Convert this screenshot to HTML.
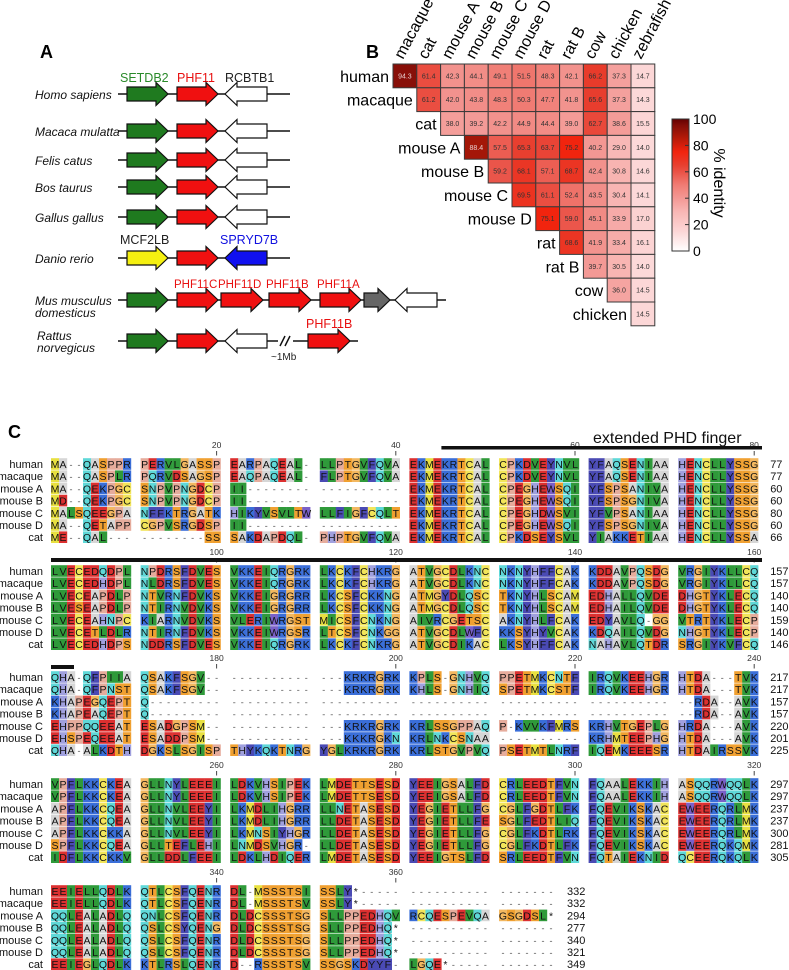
<!DOCTYPE html>
<html><head><meta charset="utf-8"><style>
html,body{margin:0;padding:0;background:#fff;}
svg{display:block;font-family:"Liberation Sans",Arial,sans-serif;}
</style></head><body>
<svg id="fig" width="789" height="970" viewBox="0 0 789 970" xmlns="http://www.w3.org/2000/svg">
<text x="40" y="58" font-size="18" font-weight="bold">A</text>
<text x="366" y="58" font-size="18" font-weight="bold">B</text>
<text x="8" y="438" font-size="18" font-weight="bold">C</text>
<g id="panelA"></g>
<g id="panelB"></g>
<g id="panelC"></g>
</svg>
<script>
// ---------- Heatmap data ----------
const rowLabels = ["human","macaque","cat","mouse A","mouse B","mouse C","mouse D","rat","rat B","cow","chicken"];
const colLabels = ["macaque","cat","mouse A","mouse B","mouse C","mouse D","rat","rat B","cow","chicken","zebrafish"];
const rowHuman   = [94.3,61.4,42.3,44.1,49.1,51.5,48.3,42.1,66.2,37.3,14.7];
const rowMacaque = [61.2,42.0,43.8,48.3,50.3,47.7,41.8,65.6,37.3,14.3];
const rowCat     = [38.0,39.2,42.2,44.9,44.4,39.0,62.7,38.6,15.5];
const rowMouseA  = [88.4,57.5,65.3,63.7,75.2,40.2,29.0,14.0];
const rowMouseB  = [59.2,68.1,57.1,68.7,42.4,30.8,14.6];
const rowMouseC  = [69.5,61.1,52.4,43.5,30.4,14.1];
const rowMouseD  = [75.1,59.0,45.1,33.9,17.0];
const rowRat     = [68.6,41.9,33.4,16.1];
const rowRatB    = [39.7,30.5,14.0];
const rowCow     = [36.0,14.5];
const rowChicken = [14.5];
const identityRows = [rowHuman,rowMacaque,rowCat,rowMouseA,rowMouseB,rowMouseC,rowMouseD,rowRat,rowRatB,rowCow,rowChicken];
const colorbarTicks = [0,20,40,60,80,100];

const NS="http://www.w3.org/2000/svg";
function mk(tag,attrs,parent){const e=document.createElementNS(NS,tag);for(const k in attrs)e.setAttribute(k,attrs[k]);if(parent)parent.appendChild(e);return e;}

const stops=[[0,[255,255,255]],[15,[252,214,214]],[30,[248,182,180]],[40,[243,152,148]],[50,[240,124,116]],[60,[234,82,70]],[66,[232,60,44]],[75,[242,36,14]],[88,[166,24,8]],[94,[138,16,8]],[100,[100,0,0]]];
function heatColor(v){
  for(let i=1;i<stops.length;i++){if(v<=stops[i][0]){const a=stops[i-1],b=stops[i];const t=(v-a[0])/(b[0]-a[0]);
    const c=a[1].map((x,j)=>Math.round(x+(b[1][j]-x)*t));return `rgb(${c[0]},${c[1]},${c[2]})`;}}
  return "rgb(100,0,0)";
}
const hx0=393, hy0=64, cs=23.8;
function xCol(j){return hx0+j*cs;}
function yRow(i){return hy0+i*cs;}
const gB=document.getElementById('panelB');
colLabels.forEach((lab,j)=>{
  const t=mk('text',{x:0,y:0,'font-size':16,transform:`translate(${xCol(j)+10},${hy0-4}) rotate(-62)`},gB);
  t.textContent=lab;
  
  
});
identityRows.forEach((row,i)=>{
  const lab=mk('text',{x:xCol(i)-4,y:yRow(i)+cs/2+6,'font-size':16,'text-anchor':'end'},gB);
  lab.textContent=rowLabels[i];
  
  
  row.forEach((v,k)=>{
    const j=i+k;
    const r=mk('rect',{x:xCol(j),y:yRow(i),width:cs,height:cs,fill:heatColor(v),stroke:'#3a3a3a','stroke-width':1},gB);
    
    
    const t=mk('text',{x:xCol(j)+cs/2,y:yRow(i)+cs/2+2.5,'font-size':7,'text-anchor':'middle',fill:v>85?'#e8d0d0':'#333'},gB);
    t.textContent=v.toFixed(1);
    
    
  });
});
// colorbar
const defs=mk('defs',{},gB);
const lg=mk('linearGradient',{id:'cbg',x1:0,y1:1,x2:0,y2:0},defs);
for(let v=0;v<=100;v+=5){mk('stop',{offset:(v/100),'stop-color':heatColor(v)},lg);}
const cbX=672,cbY=119,cbW=17,cbH=132;
const cb=mk('rect',{x:cbX,y:cbY,width:cbW,height:cbH,fill:'url(#cbg)',stroke:'#333','stroke-width':1},gB);


colorbarTicks.forEach(v=>{
  const y=cbY+cbH-(v/100)*cbH;
  mk('line',{x1:cbX+cbW-4,x2:cbX+cbW,y1:y,y2:y,stroke:'#333'},gB);
  const t=mk('text',{x:cbX+cbW+4,y:y+5,'font-size':14},gB);
  t.textContent=v;
  
  
});
const cbt=mk('text',{x:0,y:0,'font-size':16,'text-anchor':'middle',transform:'translate(714,183) rotate(90)'},gB);
cbt.textContent='% identity';



// ---------- Panel A ----------
const gA=document.getElementById('panelA');
function line(x1,x2,y){mk('line',{x1,x2,y1:y,y2:y,stroke:'#111','stroke-width':1.5},gA);}
function arrow(x1,x2,y,dir,fill,name){
  const bh=7,hh=11.5,hl=12;let pts;
  if(dir>0){const hs=x2-hl;pts=[[x1,y-bh],[hs,y-bh],[hs,y-hh],[x2,y],[hs,y+hh],[hs,y+bh],[x1,y+bh]];}
  else{const hs=x1+hl;pts=[[x2,y-bh],[hs,y-bh],[hs,y-hh],[x1,y],[hs,y+hh],[hs,y+bh],[x2,y+bh]];}
  const p=mk('polygon',{points:pts.map(p=>p.join(',')).join(' '),fill,stroke:'#111','stroke-width':1.2},gA);
  
  
}
function label(x,y,txt,color,italic,name,size){
  const t=mk('text',{x,y,'font-size':size||12,fill:color||'#111','font-style':italic?'italic':'normal'},gA);
  t.textContent=txt;
  
  
}
label(120,82,'SETDB2','#2a8a2a',false,'gene-label-setdb2',12.5);
label(177,82,'PHF11','#e81010',false,'gene-label-phf11',12.5);
label(225,82,'RCBTB1','#222',false,'gene-label-rcbtb1',12.5);
const std=[["Homo sapiens",94],["Macaca mulatta",131],["Felis catus",160],["Bos taurus",187],["Gallus gallus",217]];
std.forEach(([n,y])=>{
  label(35,y+5,n,'#111',true,'species-label',12);
  line(118,290,y);
  arrow(127,168,y,1,'#1f7a1f','setdb2-arrow');
  arrow(177,218,y,1,'#f01010','phf11-arrow');
  arrow(225,267,y,-1,'#fff','rcbtb1-arrow');
});
// Danio
label(120,244,'MCF2LB','#222',false,'gene-label-mcf2lb',12.5);
label(220,244,'SPRYD7B','#1010e0',false,'gene-label-spryd7b',12.5);
label(35,263,'Danio rerio','#111',true,'species-label',12);
line(118,290,258);
arrow(127,168,258,1,'#f5f010','mcf2lb-arrow');
arrow(177,218,258,1,'#f01010','phf11-arrow');
arrow(225,267,258,-1,'#1010f0','spryd7b-arrow');
// Mus
label(35,305,'Mus musculus','#111',true,'species-label',12);
label(35,317,'domesticus','#111',true,'species-label',12);
line(118,446,300);
arrow(127,168,300,1,'#1f7a1f','setdb2-arrow');
[[177,218,'PHF11C'],[221,263,'PHF11D'],[269,311,'PHF11B'],[320,361,'PHF11A']].forEach(([a,b,n])=>{
  arrow(a,b,300,1,'#f01010','phf11-paralog-arrow');
  label(a-3,288,n,'#e81010',false,'gene-label-'+n.toLowerCase(),11.5);
});
arrow(364,390,300,1,'#666','grey-gene-arrow');
arrow(395,437,300,-1,'#fff','white-gene-arrow');
// Rat
label(37,340,'Rattus','#111',true,'species-label',12);
label(37,352,'norvegicus','#111',true,'species-label',12);
line(118,278,341); line(293,358,341);
arrow(127,168,341,1,'#1f7a1f','setdb2-arrow');
arrow(177,218,341,1,'#f01010','phf11-arrow');
arrow(225,267,341,-1,'#fff','rcbtb1-arrow');
mk('line',{x1:280,y1:346,x2:285,y2:336,stroke:'#111','stroke-width':1.5},gA);
mk('line',{x1:285,y1:346,x2:290,y2:336,stroke:'#111','stroke-width':1.5},gA);
label(271,360,'~1Mb','#222',false,'distance-label',10);
arrow(308,350,341,1,'#f01010','phf11b-arrow');
label(306,328,'PHF11B','#e81010',false,'gene-label-phf11b',12.5);

// ---------- Panel C alignment ----------
const seqNames=["human","macaque","mouse A","mouse B","mouse C","mouse D","cat"];
const blocks=[
 {y:464,start:0,len:80,ends:[77,77,60,60,80,60,66],rows:[
  "MA--QASPPR PERVLGASSP EARPAQEAL- LLPTGVFQVA EKMEKRTCAL CPKDVEYNVL YFAQSENIAA HENCLLYSSG",
  "MA--QASPLR PQRVDSAGSP EAQPAQEAL- FLPTGVFQVA EKMEKRTCAL CPKDVEYNVL YFAQSENIAA HENCLLYSSG",
  "MA--QEKPGC SNPVPNGDCP II-------- ---------- EKMEKRTCAL CPEGHEWSQI YFSPSANIVA HENCLLYSSG",
  "MD--QEKPGC SNPVPNGDCP II-------- ---------- EKMEKRTCAL CPEGHEWSQI YFSPSGNIVA HENCLLYSSG",
  "MALSQEEGPA NFFKTRGATK HIKYVSVLTW LLFIGFCQLT EKMEKRTCAL CPEGHDWSVI YFVPSANIAA HENCLLYSSG",
  "MA--QETAPP CGPVSRGDSP II-------- ---------- EKMEKRTCAL CPEGHEWSQI YFSPSGNIVA HENCLLYSSG",
  "ME--QAL--- --------SS SAKDAPDQL- PHPTGVFQVA EKMEKRTCAL CPKDSEYSVL YIAKKETIAA HENCLLYSSA"]},
 {y:571,start:80,len:80,ends:[157,157,140,140,159,140,146],rows:[
  "LVECEDQDPL NPDRSFDVES VKKEIQRGRK LKCKFCHKRG ATVGCDLKNC NKNYHFFCAK KDDAVPQSDG VRGIYKLLCQ",
  "LVECEDHDPL NLDRSFDVES VKKEIQRGRK LKCKFCHKRG ATVGCDLKNC NKNYHFFCAK KDDAVPQSDG VRGIYKLLCQ",
  "LVECEAPDLP NTVRNFDVKS VKKEIGRGRR LKCSFCKKNG ATMGYDLQSC TKNYHLSCAM EDHALLQVDE DHGTYKLECQ",
  "LVESEAPDLP NTIRNVDVKS VKKEIGRGRR LKCSFCKKNG ATMGCDLQSC TKNYHLSCAM EDHAILQVDE DHGTYKLECQ",
  "LVECEAHNPC KIARNVDVKS VLERIWRGST MICSFCNKNG AIVRCGETSC AKNYHLFCAK EDYAVLQ-GG VTRTYKLECP",
  "LVECETLDLR NTIRNFDVKS VKKEIWRGSR LTCSFCNKGG ATVGCDLWFC KKSYHYVCAK KDQAILQVDG NHGTYKLECP",
  "LVECEDHDPS NDDRSFDVES VKKEIQRGRK LKCKFCNKRG ATVGCDIKAC LKSYHFFCAK NAHAVLQTDR SRGIYKVFCQ"]},
 {y:677,start:160,len:80,ends:[217,217,157,157,220,201,225],rows:[
  "QHA-QFPIIA QSAKFSGV-- ---------- ---KRKRGRK KPLS-GNHVQ PPETMKCNTF IRQVKEEHGR HTDA---TVK",
  "QHA-QFPNST QSAKFSGV-- ---------- ---KRKRGRK KHLS-GNHIQ SPETMKCSTF IRQVKEEHGR HTDA---TVK",
  "KHAPEGQEPT Q--------- ---------- ---------- ---------- ---------- ---------- --RDA--AVK",
  "KHAPEAQEPT Q--------- ---------- ---------- ---------- ---------- ---------- --RDA--AVK",
  "EHPPQQEEAT ESADGPSM-- ---------- ---KRKRGRK KRLSSGPPAQ P-KVVKFMRS KRHVTGEPLG HRDA---AVK",
  "EHSPEQEEAT ESADDPSM-- ---------- ---KKKRGKN KRLNKCSNAA ---------- KRHMTEEPHG HTDA---AVK",
  "QHA-ALKDTH DGKSLSGISP THYKQKTNRG YGLKRKRGRK KRLSTGVPVQ PSETMTLNRF IQEMKEEESR HTDAIRSSVK"]},
 {y:784,start:240,len:80,ends:[297,297,237,237,300,281,305],rows:[
  "VPFLKKCKEA GLLNYLEEEI LDKVHSIPEK LMDETTSESD YEEIGSALFD CRLEEDTFVN FQAALEKKIH ASQQRWQQLK",
  "VPFLKKCKEA GLLNYLEEEI LDKVHSIPEK LMDETTSESD YEEIGSALFD CRLEEDTFVN FQAALEKKIH ASQQRWQQLK",
  "APFLKKCQEA GLLNVLEEYI LKMDLIHGRR LLNETASESD YEGIETLLFG CGLFGDTLFK FQEVIKSKAC EWEERQRLMK",
  "APFLKKCQEA GLLNVLEEYI LKMDLIHGRR LLDETASESD YEGIETLLFE SGLFEDTLIQ FQEVIKSKAC EWEERQRLMK",
  "APFLKKCKKA GLLNVLEEYI LKMNSIYHGR LLDETASESD YEGIETLLFG CGLFKDTLRK FQEVIKSKAC EWEERQRLMK",
  "SPFLKKCQEA GLLTEFLEHI LNMDSVHGR- LLDETASESD YEGIETLLFG CGLFKDTLFK FQEVIKSKAC EWEERQKQMK",
  "IDFLKKCKKV GLLDDLFEEI LDKLHDIQER LMDETASESD YEEIGTSLFD SRLEEDTFVN FQTAIEKNID QCEERQKQLK"]},
 {y:891,start:320,len:57,ends:[332,332,294,277,340,321,349],rows:[
  "EEIELLQDLK QTLCSFQENR DL-MSSSTSI SSLY*----- ---------- -------",
  "EEIELLQDLK QTLCSFQENR DL-MSSSTSV SSLY*----- ---------- -------",
  "QQLEALADLQ QNLCSFQENR DLDCSSSTSG SLLPPEDHQV RCQESPEVQA GSGDSL*",
  "QQLEALADLQ QSLCSYQENG DLDCSSSTSG SLLPPEDHQ* ---------- -------",
  "QQLEALADLQ QSLCSFQENR DLDCSSSTSG SLLPPEDHQ* ---------- -------",
  "QQLEALADLQ QSLCSFQENR DLDCSSSTSG SLLPPEDHQ* ---------- -------",
  "EEIEGLQDLK KTLRSLQENR D--RSSSTSV SSGSKDYYF- LGQE*----- -------"]}
];
const resColor={L:'#2f9a3a',I:'#2f9a3a',V:'#2f9a3a',M:'#e8e040',C:'#f2e55a',F:'#4a4ab4',Y:'#4a4ab4',W:'#7a60c8',
 E:'#dc3030',D:'#dc3030',K:'#3a6ed8',R:'#3a6ed8',H:'#a0a0de',S:'#f0a030',T:'#f0a030',N:'#5fd8d8',Q:'#5fd8d8',
 G:'#f3b860',A:'#d6d6d6',P:'#e6ac9c'};
const gC=document.getElementById('panelC');
const cw=8.0, gp=89.6, ax0=51, rp=12.2;
function colX(c){return ax0+Math.floor(c/10)*gp+(c%10)*cw;}
blocks.forEach((b,bi)=>{
  for(let g=20; g<=b.len; g+=20){
    const num=b.start+g;const cx=colX(g-1)+cw/2;
    const t=mk('text',{x:cx,y:b.y-16,'font-size':8.5,'text-anchor':'middle',fill:'#333'},gC);
    t.textContent=num;
    
    
    mk('line',{x1:cx,x2:cx,y1:b.y-13,y2:b.y-8.5,stroke:'#444','stroke-width':1},gC);
  }
  b.rows.forEach((s,ri)=>{
    const seq=s.replace(/ /g,'').padEnd(b.len,'-').slice(0,b.len);
    const yc=b.y+ri*rp;
    const n=mk('text',{x:43,y:yc+4,'font-size':11,'text-anchor':'end',fill:'#111'},gC);
    n.textContent=seqNames[ri];
    
    
    for(let c=0;c<b.len;c++){
      const ch=seq[c];const x=colX(c);
      if(resColor[ch]){mk('rect',{x:x,y:yc-5.8,width:cw+0.2,height:11.6,fill:resColor[ch]},gC);}
      const t=mk('text',{x:x+cw/2,y:yc+4,'font-size':ch==='-'?9:10.5,'text-anchor':'middle',fill:ch==='-'?'#555':'#111'},gC);
      t.textContent=ch;
    }
    const e=mk('text',{x:colX(b.len-1)+cw+12,y:yc+4,'font-size':11,fill:'#111'},gC);
    e.textContent=b.ends[ri];
    
    
  });
});
// domain bars
const bar1=mk('rect',{x:colX(44),y:446,width:762-colX(44),height:3.5,fill:'#111'},gC);


const bl=mk('text',{x:593,y:443,'font-size':16,fill:'#111'},gC);
bl.textContent='extended PHD finger';


const bar2=mk('rect',{x:51,y:558,width:711,height:4,fill:'#111'},gC);


const bar3=mk('rect',{x:51,y:665,width:23,height:4,fill:'#111'},gC);


</script>
</body></html>
